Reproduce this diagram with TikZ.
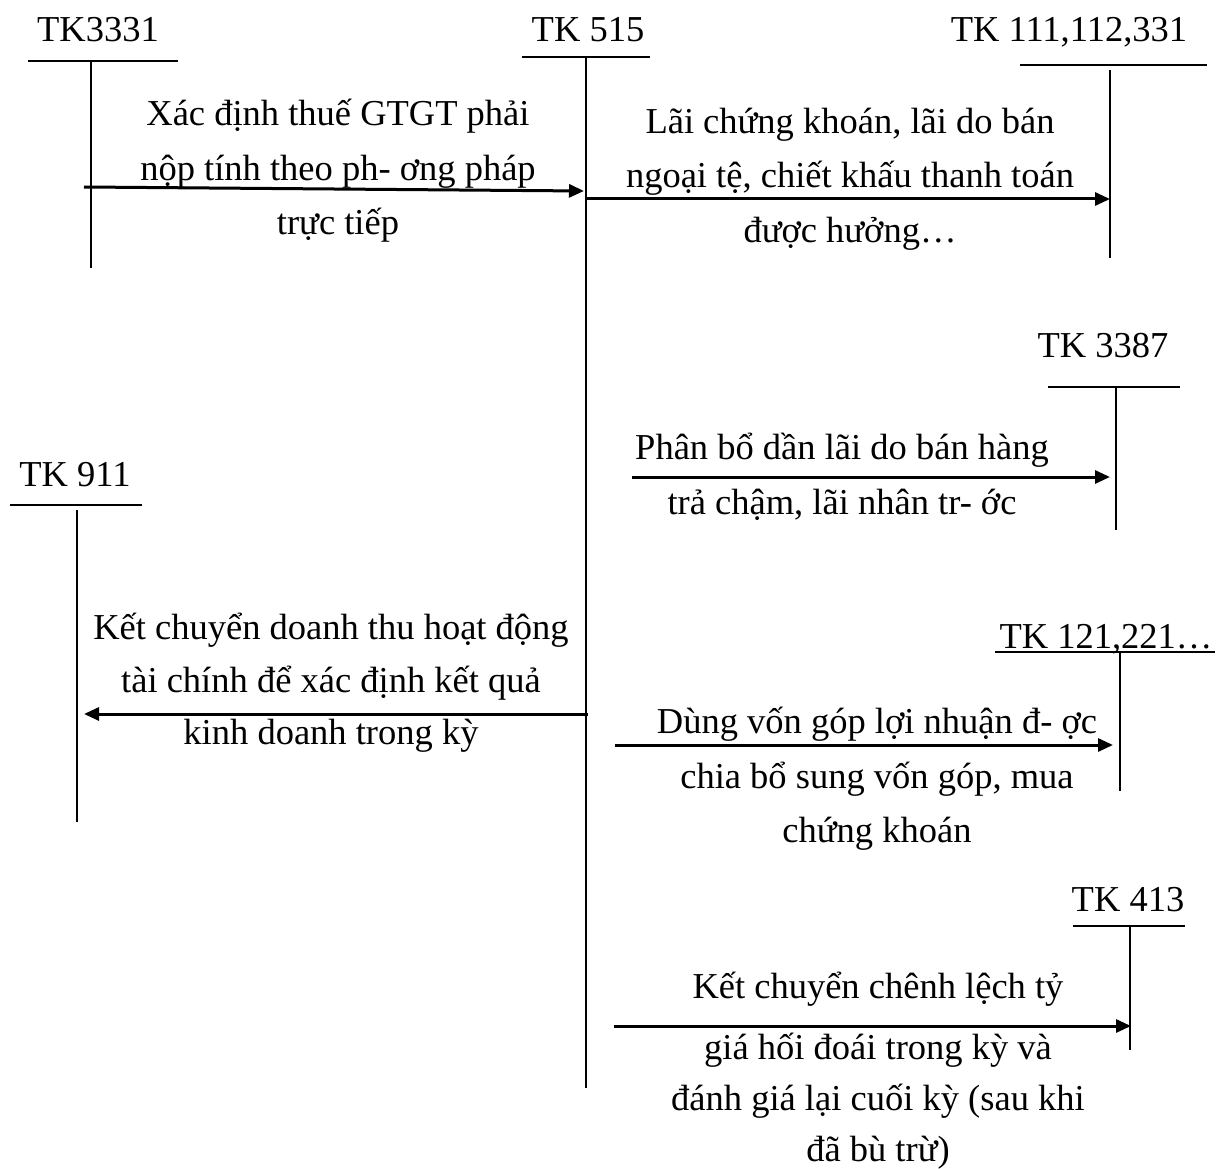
\documentclass[tikz,border=0pt]{standalone}
\usepackage{fontspec}
\setmainfont{Liberation Serif}
\usetikzlibrary{arrows.meta}
\begin{document}
\begin{tikzpicture}[x=1pt,y=-1pt,
  acct/.style={font=\fontsize{36.5}{54}\selectfont, inner sep=0pt, anchor=base},
  note/.style={font=\fontsize{36.5}{54.5}\selectfont, align=center, inner sep=0pt},
  tbar/.style={line width=1.8pt},
  flow/.style={line width=3pt, -{Triangle[length=15pt,width=13pt]}}]
\useasboundingbox (0,0) rectangle (1224,1169);

% ---- T-accounts: title, top bar, stem ----
\node[acct] (tk3331) at (98,42) {TK3331};
\draw[tbar] (28,61) -- (178,61);
\draw[tbar] (91,61) -- (91,268);

\node[acct] (tk515) at (588,42) {TK 515};
\draw[tbar] (522,57) -- (650,57);
\draw[tbar] (586,57) -- (586,1088);

\node[acct] (tk111) at (1069,42) {TK 111,112,331};
\draw[tbar] (1020,65) -- (1207,65);
\draw[tbar] (1110,70) -- (1110,258);

\node[acct] (tk3387) at (1103,357) {TK 3387};
\draw[tbar] (1048,387) -- (1180,387);
\draw[tbar] (1116,387) -- (1116,530);

\node[acct] (tk911) at (75,486) {TK 911};
\draw[tbar] (10,505) -- (142,505);
\draw[tbar] (77,510) -- (77,822);

\node[acct] (tk121) at (1106,648) {TK 121,221…};
\draw[tbar] (995,652) -- (1215,652);
\draw[tbar] (1120,652) -- (1120,791);

\node[acct] (tk413) at (1128,911) {TK 413};
\draw[tbar] (1073,926) -- (1185,926);
\draw[tbar] (1130,926) -- (1130,1050);

% ---- entry end points on the stems ----
\coordinate (s1) at (84,187);   \coordinate (e1) at (584,191);
\coordinate (s2) at (586,199);  \coordinate (e2) at (1110,199);
\coordinate (s3) at (632,477);  \coordinate (e3) at (1110,477);
\coordinate (s4) at (588,714);  \coordinate (e4) at (84,714);
\coordinate (s5) at (615,745);  \coordinate (e5) at (1113,745);
\coordinate (s6) at (614,1026); \coordinate (e6) at (1131,1026);

\draw[flow] (s1) -- (e1);
\draw[flow] (s2) -- (e2);
\draw[flow] (s3) -- (e3);
\draw[flow] (s4) -- (e4);
\draw[flow] (s5) -- (e5);
\draw[flow] (s6) -- (e6);

% ---- entry descriptions ----
\node[note] (n1) at (338,171) {Xác định thuế GTGT phải\\nộp tính theo ph- ơng pháp\\trực tiếp};
\node[note] (n2) at (850,179) {Lãi chứng khoán, lãi do bán\\ngoại tệ, chiết khấu thanh toán\\được hưởng…};
\node[note] (n3) at (842,477) {Phân bổ dần lãi do bán hàng\\trả chậm, lãi nhân tr- ớc};
\node[note, font=\fontsize{36.5}{52.5}\selectfont] (n4) at (331,683)
  {Kết chuyển doanh thu hoạt động\\tài chính để xác định kết quả\\kinh doanh trong kỳ};
\node[note] (n5) at (877,779) {Dùng vốn góp lợi nhuận đ- ợc\\chia bổ sung vốn góp, mua\\chứng khoán};
\node[note, font=\fontsize{36.5}{51}\selectfont] (n6) at (878,1071)
  {Kết chuyển chênh lệch tỷ\\[10pt]giá hối đoái trong kỳ và\\đánh giá lại cuối kỳ (sau khi\\đã bù trừ)};
\end{tikzpicture}
\end{document}
